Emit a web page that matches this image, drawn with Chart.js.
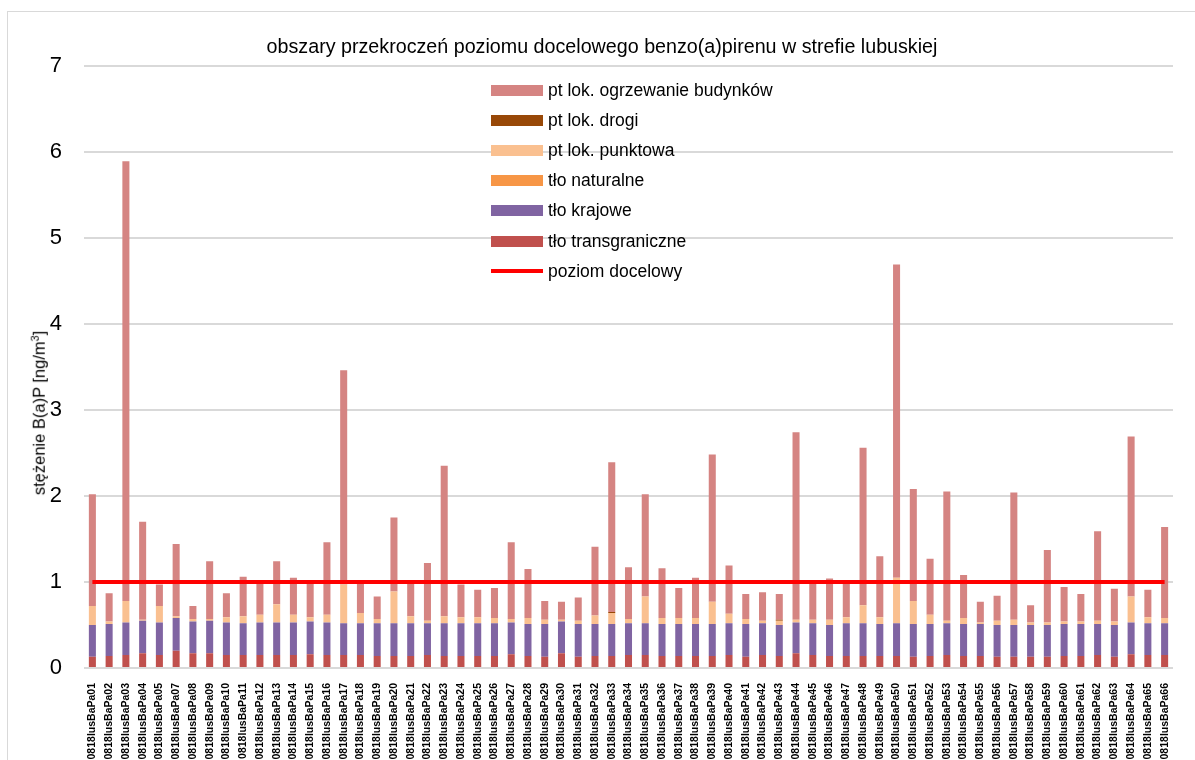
<!DOCTYPE html>
<html>
<head>
<meta charset="utf-8">
<script src="https://cdn.jsdelivr.net/npm/chart.js@4.4.1/dist/chart.umd.min.js"></script>
<style>
  html, body { margin:0; padding:0; background:#fff; overflow:hidden; }
  .wrap-chart { position:relative; width:1195px; height:760px; }
  .frame { position:absolute; left:7px; top:11px; width:1300px; height:900px; border:1px solid #d9d9d9; }
  canvas { position:absolute; left:0; top:0; }
  #legend { position:absolute; left:491px; top:75.5px; font-family:'Liberation Sans', Arial, sans-serif; font-size:17.5px; color:#000; }
  #legend .item { height:30.1px; display:flex; align-items:center; white-space:nowrap; }
  #legend .sw { width:52px; height:11px; margin-right:5px; }
  #legend .sw.line { height:4px; }
  #ytitle { position:absolute; left:39px; top:413px; transform:translate(-50%, -50%) rotate(-90deg);
            font-family:'Liberation Sans', Arial, sans-serif; font-size:16.5px; line-height:1; color:#000; white-space:nowrap; }
  #ytitle sup { font-size:0.65em; line-height:0; vertical-align:0.55em; }
</style>
</head>
<body>
<div class="wrap-chart">
  <div class="frame"></div>
  <canvas width="1195" height="760"></canvas>
  <div id="legend"></div>
  <div id="ytitle">stężenie B(a)P [ng/m<sup>3</sup>]</div>
</div>
<script>
const FONT = "'Liberation Sans', Arial, sans-serif";

const stations = ['01','02','03','04','05','07','08','09','10','11','12','13','14','15','16','17','18','19','20',
  '21','22','23','24','25','26','27','28','29','30','31','32','33','34','35','36','37','38','39','40',
  '41','42','43','44','45','46','47','48','49','50','51','52','53','54','55','56','57','58','59','60',
  '61','62','63','64','65','66'];
const labels = stations.map(s => '0818lusBaPa' + s);

// tło transgraniczne
const tloTransgraniczne = [
  0.13, 0.14, 0.15, 0.17, 0.15, 0.20, 0.17, 0.17, 0.15, 0.15, 0.15, 0.15, 0.15, 0.16, 0.15, 0.15, 0.15, 0.14, 0.14,
  0.14, 0.15, 0.14, 0.14, 0.14, 0.14, 0.16, 0.14, 0.13, 0.17, 0.13, 0.14, 0.14, 0.15, 0.15, 0.14, 0.14, 0.14, 0.14, 0.15,
  0.13, 0.15, 0.14, 0.17, 0.15, 0.14, 0.14, 0.14, 0.14, 0.14, 0.13, 0.14, 0.15, 0.14, 0.14, 0.13, 0.13, 0.13, 0.13, 0.14,
  0.14, 0.15, 0.13, 0.16, 0.15, 0.15
];
// tło krajowe
const tloKrajowe = [
  0.37, 0.37, 0.38, 0.38, 0.38, 0.38, 0.37, 0.38, 0.38, 0.37, 0.38, 0.38, 0.38, 0.38, 0.38, 0.37, 0.37, 0.38, 0.38,
  0.38, 0.37, 0.38, 0.38, 0.38, 0.38, 0.37, 0.37, 0.38, 0.37, 0.38, 0.37, 0.37, 0.37, 0.37, 0.37, 0.37, 0.37, 0.37, 0.37,
  0.38, 0.37, 0.36, 0.36, 0.37, 0.36, 0.38, 0.38, 0.37, 0.38, 0.38, 0.37, 0.37, 0.37, 0.37, 0.37, 0.37, 0.37, 0.37, 0.37,
  0.37, 0.36, 0.37, 0.37, 0.37, 0.37
];
// tło naturalne
const tloNaturalne = [
  0, 0, 0, 0, 0, 0, 0, 0, 0, 0, 0, 0, 0, 0, 0, 0, 0, 0, 0,
  0, 0, 0, 0, 0, 0, 0, 0, 0, 0, 0, 0, 0, 0, 0, 0, 0, 0, 0, 0,
  0, 0, 0, 0, 0, 0, 0, 0, 0, 0, 0, 0, 0, 0, 0, 0, 0, 0, 0, 0,
  0, 0, 0, 0, 0, 0
];
// pt lok. punktowa
const ptPunktowa = [
  0.22, 0.03, 0.25, 0.01, 0.19, 0.02, 0.03, 0.02, 0.06, 0.08, 0.09, 0.21, 0.09, 0.05, 0.09, 0.45, 0.12, 0.05, 0.37,
  0.08, 0.03, 0.08, 0.07, 0.07, 0.06, 0.04, 0.07, 0.05, 0.02, 0.04, 0.10, 0.13, 0.05, 0.31, 0.07, 0.07, 0.07, 0.26, 0.11,
  0.06, 0.03, 0.05, 0.03, 0.04, 0.06, 0.07, 0.21, 0.08, 0.53, 0.27, 0.11, 0.03, 0.07, 0.02, 0.05, 0.06, 0.03, 0.03, 0.03,
  0.03, 0.04, 0.04, 0.30, 0.07, 0.06
];
// pt lok. drogi
const ptDrogi = [
  0, 0, 0, 0, 0, 0, 0, 0, 0, 0, 0, 0, 0, 0, 0, 0, 0, 0, 0,
  0, 0, 0, 0, 0, 0, 0, 0, 0, 0, 0, 0, 0.01, 0, 0, 0, 0, 0, 0, 0,
  0, 0, 0.01, 0, 0, 0, 0, 0, 0, 0, 0, 0, 0, 0, 0, 0, 0, 0, 0, 0,
  0, 0, 0, 0, 0, 0
];
// pt lok. ogrzewanie budynków
const ptOgrzewanie = [
  1.30, 0.33, 5.11, 1.14, 0.25, 0.84, 0.15, 0.67, 0.28, 0.46, 0.36, 0.50, 0.43, 0.40, 0.84, 2.49, 0.34, 0.26, 0.86,
  0.38, 0.67, 1.75, 0.38, 0.32, 0.35, 0.89, 0.57, 0.22, 0.21, 0.27, 0.80, 1.74, 0.60, 1.19, 0.58, 0.35, 0.47, 1.71, 0.56,
  0.29, 0.33, 0.30, 2.18, 0.43, 0.48, 0.42, 1.83, 0.71, 3.64, 1.30, 0.65, 1.50, 0.50, 0.24, 0.29, 1.48, 0.20, 0.84, 0.40,
  0.32, 1.04, 0.38, 1.86, 0.32, 1.06
];
// poziom docelowy
const poziomDocelowy = labels.map(() => 1);

function bar(label, data, color) {
  return { label, data, backgroundColor: color, borderWidth: 0, barPercentage: 0.42, categoryPercentage: 1 };
}

const ctx = document.querySelector('.wrap-chart canvas').getContext('2d');
const chart = new Chart(ctx, {
  type: 'bar',
  data: {
    labels: labels,
    datasets: [
      bar('tło transgraniczne', tloTransgraniczne, '#C0504D'),
      bar('tło krajowe', tloKrajowe, '#8064A2'),
      bar('tło naturalne', tloNaturalne, '#F79646'),
      bar('pt lok. punktowa', ptPunktowa, '#FAC090'),
      bar('pt lok. drogi', ptDrogi, '#984807'),
      bar('pt lok. ogrzewanie budynków', ptOgrzewanie, '#D58482'),
      {
        type: 'line', label: 'poziom docelowy', data: poziomDocelowy, stack: 'target',
        borderColor: '#FF0000', backgroundColor: '#FF0000', borderWidth: 4,
        pointRadius: 0, fill: false, order: -1
      }
    ]
  },
  options: {
    responsive: false,
    animation: false,
    layout: { padding: { left: 31, right: 22, top: 36, bottom: 0 } },
    plugins: {
      legend: { display: false },
      tooltip: { enabled: false },
      title: {
        display: true,
        text: 'obszary przekroczeń poziomu docelowego benzo(a)pirenu w strefie lubuskiej',
        color: '#000',
        font: { family: FONT, size: 19.7, weight: 'normal' },
        padding: { top: 0, bottom: 6 }
      }
    },
    scales: {
      x: {
        stacked: true,
        grid: { display: false },
        border: { display: false },
        ticks: {
          autoSkip: false, maxRotation: 90, minRotation: 90, padding: 7,
          color: '#000', font: { family: FONT, size: 10.5, weight: 'bold' }
        },
        afterFit(s) { s.height = 92; }
      },
      y: {
        stacked: true,
        min: 0, max: 7,
        grid: { color: '#d9d9d9', lineWidth: 2, drawTicks: false },
        border: { display: false },
        ticks: { stepSize: 1, padding: 22, color: '#000', font: { family: FONT, size: 22 } },
        afterFit(s) { s.width = 53; }
      }
    }
  }
});

// legend inside the plot, same order as the original (top segment first, line last)
const legendOrder = [5, 4, 3, 2, 1, 0, 6];
const legendEl = document.getElementById('legend');
legendOrder.forEach(i => {
  const ds = chart.data.datasets[i];
  const item = document.createElement('div');
  item.className = 'item';
  const sw = document.createElement('span');
  sw.className = ds.type === 'line' ? 'sw line' : 'sw';
  sw.style.background = ds.type === 'line' ? ds.borderColor : ds.backgroundColor;
  const txt = document.createElement('span');
  txt.textContent = ds.label;
  item.appendChild(sw);
  item.appendChild(txt);
  legendEl.appendChild(item);
});
</script>
</body>
</html>
